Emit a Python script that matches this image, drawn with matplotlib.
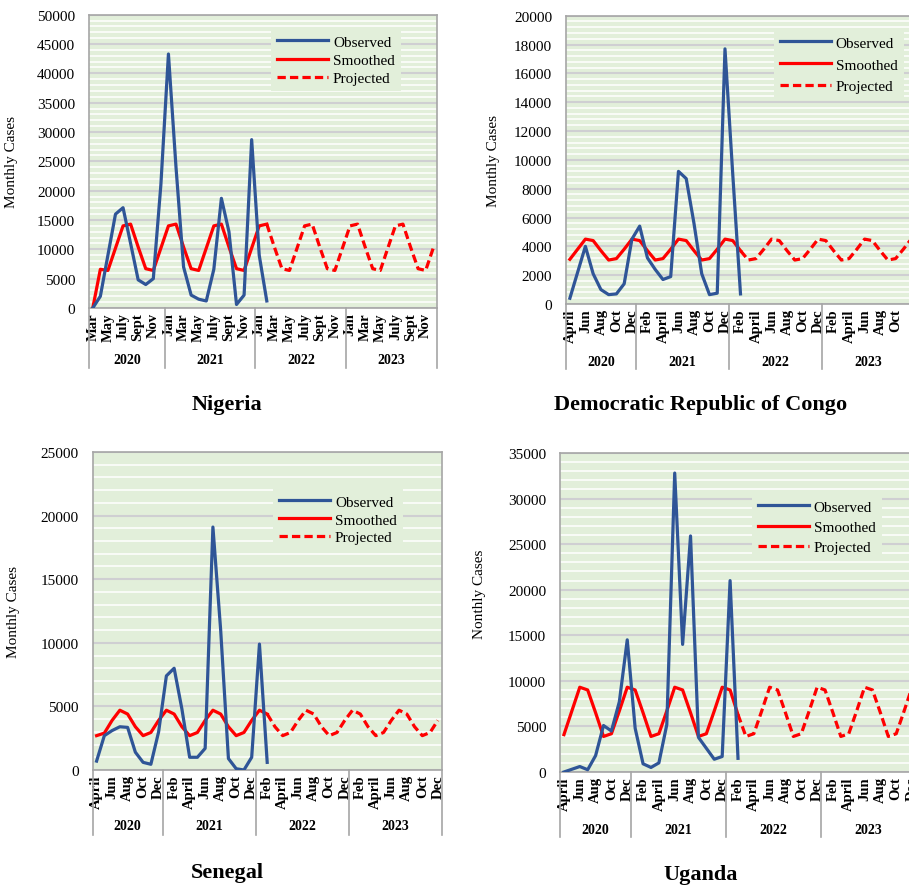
import matplotlib
matplotlib.use("Agg")
import matplotlib.pyplot as plt
import matplotlib.transforms as mtransforms
from matplotlib.ticker import MultipleLocator
import numpy as np

plt.rcParams.update({
    "font.family": ["Liberation Serif", "DejaVu Serif"],
    "font.size": 11,
})

# ── Data ──────────────────────────────────────────────────────────────────────

# Nigeria: Mar 2020 – Dec 2023
ng_ticks = ["Mar", "May", "July", "Sept", "Nov",
            "Jan", "Mar", "May", "July", "Sept", "Nov",
            "Jan", "Mar", "May", "July", "Sept", "Nov",
            "Jan", "Mar", "May", "July", "Sept", "Nov"]
ng_obs = [0, 2000, 9000, 16000, 17100, 11000, 4800, 4000, 5000, 21000, 43300, 24000,
          7000, 2200, 1500, 1200, 6600, 18700, 13000, 600, 2200, 28700, 9000, 1200]
ng_smooth = [0, 6600, 6400, 10200, 14000, 14300, 10400, 6700, 6400, 10200, 14000, 14300,
             10400, 6700, 6400, 10200, 14000, 14300, 10400, 6700, 6400, 10200, 14000, 14300]
ng_proj = [14300, 10400, 6700, 6400, 10200, 14000, 14300, 10400, 6700, 6400, 10200, 14000,
           14300, 10400, 6700, 6400, 10200, 14000, 14300, 10400, 6700, 6400, 10200]

# April 2020 – Dec 2023 (DRC, Senegal, Uganda)
ap_ticks = ["April", "Jun", "Aug", "Oct", "Dec",
            "Feb", "April", "Jun", "Aug", "Oct", "Dec",
            "Feb", "April", "Jun", "Aug", "Oct", "Dec",
            "Feb", "April", "Jun", "Aug", "Oct", "Dec"]
# the DRC panel is cropped before its last label
drc_ticks = ["April", "Jun", "Aug", "Oct", "Dec",
             "Feb", "April", "Jun", "Aug", "Oct", "Dec",
             "Feb", "April", "Jun", "Aug", "Oct", "Dec",
             "Feb", "April", "Jun", "Aug", "Oct", ""]

drc_obs = [400, 2200, 4000, 2100, 1000, 650, 700, 1400, 4500, 5400, 3200, 2400,
           1700, 1900, 9200, 8700, 5600, 2100, 650, 750, 17700, 9000, 700]
drc_smooth = [3100, 3800, 4500, 4400, 3700, 3050, 3150, 3800, 4500, 4400, 3700, 3050,
              3150, 3800, 4500, 4400, 3700, 3050, 3150, 3800, 4500, 4400, 3700]
drc_proj = [3700, 3050, 3150, 3800, 4500, 4400, 3700, 3050, 3150, 3800, 4500, 4400,
            3700, 3050, 3150, 3800, 4500, 4400, 3700, 3050, 3150, 3800, 4500]

sn_obs = [700, 2700, 3100, 3400, 3350, 1400, 600, 450, 3000, 7400, 8000, 4800,
          1000, 1000, 1700, 19100, 11000, 900, 100, 0, 1000, 9900, 600]
sn_smooth = [2700, 2900, 3900, 4700, 4400, 3400, 2700, 2950, 3900, 4700, 4400, 3400,
             2700, 2950, 3900, 4700, 4400, 3400, 2700, 2950, 3900, 4700, 4400]
sn_proj = [4400, 3400, 2700, 2950, 3900, 4700, 4400, 3400, 2700, 2950, 3900, 4700,
           4400, 3400, 2700, 2950, 3900, 4700, 4400, 3400, 2700, 2950, 3900]

ug_obs = [0, 300, 600, 250, 1800, 5100, 4500, 7700, 14500, 4800, 900, 500,
          1000, 5200, 32800, 14000, 25900, 3800, 2600, 1400, 1700, 21000, 1500]
ug_smooth = [4100, 6700, 9300, 9000, 6500, 3900, 4200, 6700, 9300, 9000, 6500, 3900,
             4200, 6700, 9300, 9000, 6500, 3900, 4200, 6700, 9300, 9000, 6300]
ug_proj = [6300, 3900, 4200, 6700, 9300, 9000, 6500, 3900, 4200, 6700, 9300, 9000,
           6500, 3900, 4200, 6700, 9300, 9000, 6500, 3900, 4200, 6700, 9300]

years = ["2020", "2021", "2022", "2023"]

# ── Styling ───────────────────────────────────────────────────────────────────

BLUE = "#2F5597"
RED = "#FF0000"
BG = "#E2EFDA"
FRAME = "#A6A6A6"

W, H = 909, 887
fig = plt.figure(figsize=(W / 100, H / 100), dpi=100)


def panel(rect_px, obs, smooth, proj, ticks, first_year, ymax, ystep, yminor,
          ylabel, ylabel_xy, year_y, div_y, legend_px, labelspacing, title, title_px):
    x0, top, w, bottom = rect_px
    ax = fig.add_axes([x0 / W, 1 - bottom / H, w / W, (bottom - top) / H])
    n_months = first_year + 36
    ax.set_facecolor(BG)

    x_obs = np.arange(len(obs))
    x_proj = np.arange(len(smooth) - 1, len(smooth) - 1 + len(proj))
    l1, = ax.plot(x_obs, obs, color=BLUE, lw=2.3, zorder=4)
    l2, = ax.plot(np.arange(len(smooth)), smooth, color=RED, lw=2.3, zorder=3)
    l3, = ax.plot(x_proj, proj, color=RED, lw=2.3, dashes=(2.6, 1.3), zorder=3)

    ax.set_xlim(-0.5, n_months - 0.5)
    ax.set_ylim(0, ymax)
    ax.yaxis.set_major_locator(MultipleLocator(ystep))
    ax.yaxis.set_minor_locator(MultipleLocator(yminor))
    ax.grid(axis="y", which="minor", color="white", lw=1.3, alpha=0.85, zorder=0)
    ax.grid(axis="y", which="major", color="#CFCFD2", lw=1.5, zorder=1)
    ax.set_axisbelow(True)
    ax.tick_params(axis="y", which="both", length=0, pad=10, labelsize=11)

    ax.set_xticks(np.arange(0, n_months, 2))
    ax.set_xticklabels(ticks, rotation=90, fontweight="bold", fontsize=10.5, va="top")
    ax.tick_params(axis="x", length=0, pad=3)

    for s in ax.spines.values():
        s.set_color(FRAME)
        s.set_linewidth(1.2)

    ax.set_ylabel(ylabel, fontsize=11)
    ax.yaxis.set_label_coords(*ylabel_xy)

    # year dividers and year labels under the month labels
    trans = mtransforms.blended_transform_factory(ax.transData, ax.transAxes)
    bounds = [-0.5] + [first_year - 0.5 + 12 * k for k in range(4)]
    bounds[-1] = n_months - 0.5
    for b in bounds:
        ax.plot([b, b], [0, div_y], transform=trans, color=FRAME, lw=1.2,
                clip_on=False)
    for k, yr in enumerate(years):
        ax.text((bounds[k] + bounds[k + 1]) / 2, year_y, yr, transform=trans,
                ha="center", va="center", fontweight="bold", fontsize=10)

    lx, ly = legend_px
    leg = ax.legend([l1, l2, l3], ["Observed", "Smoothed", "Projected"],
                    loc="upper left", bbox_to_anchor=(lx / W, 1 - ly / H),
                    bbox_transform=fig.transFigure, borderaxespad=0, borderpad=0.4,
                    handlelength=3.3, handletextpad=0.35, labelspacing=labelspacing,
                    fontsize=11, frameon=True, facecolor=BG, edgecolor="none",
                    framealpha=1, fancybox=False)
    leg.set_zorder(6)

    fig.text(title_px[0] / W, 1 - title_px[1] / H, title, ha="center", va="center",
             fontsize=16, fontweight="bold")
    return ax


panel((89, 15.7, 348, 309), ng_obs, ng_smooth, ng_proj, ng_ticks, 10,
      50000, 5000, 1000, "Monthly Cases", (-0.204, 0.5), -0.177, -0.2046,
      (271, 30), 0.3, "Nigeria", (227, 405))

panel((566, 16.7, 349, 305), drc_obs, drc_smooth, drc_proj, drc_ticks, 9,
      20000, 2000, 400, "Monthly Cases", (-0.188, 0.5), -0.198, -0.2255,
      (774, 31), 0.53, "Democratic Republic of Congo", (701, 405))

panel((92.7, 453, 349, 771), sn_obs, sn_smooth, sn_proj, ap_ticks, 9,
      25000, 5000, 1000, "Monthly Cases", (-0.208, 0.5), -0.176, -0.2044,
      (273, 490), 0.27, "Senegal", (227, 873))

panel((560, 454, 356, 773), ug_obs, ug_smooth, ug_proj, ap_ticks, 9,
      35000, 5000, 1000, "Nonthly Cases", (-0.208, 0.56), -0.179, -0.204,
      (752, 495), 0.42, "Uganda", (701, 875))

fig.savefig("out.png", dpi=100)
